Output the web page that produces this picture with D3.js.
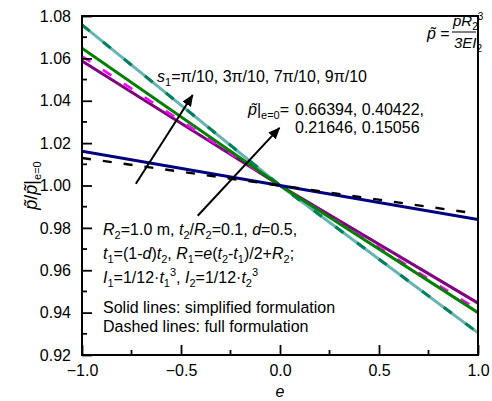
<!DOCTYPE html>
<html><head><meta charset="utf-8">
<script src="https://cdn.jsdelivr.net/npm/d3@7"></script>
<style>body{margin:0;background:#fff}svg{display:block;font-family:"Liberation Sans",Arial,sans-serif}</style>
</head><body><svg id="c" width="492" height="401"></svg>
<script>
const eVals = [-1, 0, 1];
const solidNavy   = [1.0162, 1.0, 0.9840];
const dashBlack   = [1.0130, 1.0, 0.9866];
const solidPurple = [1.0588, 1.0, 0.9445];
const dashMagenta = [1.0610, 1.0, 0.9413];
const solidGreen  = [1.0648, 1.0, 0.9400];
const solidTeal   = [1.0758, 1.0, 0.9305];
const dashTeal    = [1.0758, 1.0, 0.9305];
const xTicks = [-1, -0.5, 0, 0.5, 1];
const yTicks = [0.92, 0.94, 0.96, 0.98, 1.00, 1.02, 1.04, 1.06, 1.08];

const series = [
  {v: solidTeal, color: "#66b3b3", w: 3, dash: null},
  {v: dashTeal, color: "#00805a", w: 3, dash: "10,17"},
  {v: solidPurple, color: "#800080", w: 3, dash: null},
  {v: dashMagenta, color: "#ff00ff", w: 2.6, dash: "10,15"},
  {v: solidGreen, color: "#008000", w: 3, dash: null},
  {v: solidNavy, color: "#000080", w: 3, dash: null},
  {v: dashBlack, color: "#000000", w: 2.4, dash: "9,12"}
];

const svg = d3.select("#c");
const L = 82, R = 478, T = 16, B = 355;
const x = d3.scaleLinear().domain([-1, 1]).range([L, R]);
const y = d3.scaleLinear().domain([0.92, 1.08]).range([B, T]);

const defs = svg.append("defs");
defs.append("clipPath").attr("id","clip").append("rect")
  .attr("x", L).attr("y", T).attr("width", R-L).attr("height", B-T);

const line = d3.line().x((d,i)=>x(eVals[i])).y(d=>y(d));
const g = svg.append("g").attr("clip-path","url(#clip)");
series.forEach(s => {
  g.append("path").attr("d", line(s.v)).attr("fill","none")
    .attr("stroke", s.color).attr("stroke-width", s.w)
    .attr("stroke-dasharray", s.dash);
});

// axes
const fs = 16;
const xAxis = d3.axisBottom(x).tickValues(xTicks).tickSize(-10).tickPadding(10)
  .tickFormat(d => d3.format(".1f")(d).replace("-", "\u2212"));
const gx = svg.append("g").attr("transform", `translate(0,${B})`).call(xAxis);
const yAxis = d3.axisLeft(y).tickValues(yTicks).tickSize(-10).tickPadding(11)
  .tickFormat(d3.format(".2f"));
const gy = svg.append("g").attr("transform", `translate(${L},0)`).call(yAxis);
[gx, gy].forEach(a => {
  a.select(".domain").remove();
  a.selectAll("line").attr("stroke","#000").attr("stroke-width",1.8);
  a.selectAll("text").attr("font-size", fs).attr("fill","#000")
    .style("font-family", '"Liberation Sans",Arial,sans-serif');
});
// minor ticks
const xMinor = [-0.75, -0.25, 0.25, 0.75];
svg.append("g").selectAll("line").data(xMinor).join("line")
  .attr("x1", d=>x(d)).attr("x2", d=>x(d)).attr("y1", B).attr("y2", B-5)
  .attr("stroke","#000").attr("stroke-width",1.8);
const yMinor = [0.93, 0.95, 0.97, 0.99, 1.01, 1.03, 1.05, 1.07];
svg.append("g").selectAll("line").data(yMinor).join("line")
  .attr("x1", L).attr("x2", L+5).attr("y1", d=>y(d)).attr("y2", d=>y(d))
  .attr("stroke","#000").attr("stroke-width",1.8);

// frame
svg.append("rect").attr("x", L).attr("y", T).attr("width", R-L).attr("height", B-T)
  .attr("fill","none").attr("stroke","#000").attr("stroke-width",2);

// axis titles
svg.append("text").attr("x", (L+R)/2).attr("y", 397).attr("text-anchor","middle")
  .attr("font-size", fs).attr("font-style","italic").text("e");

const yl = svg.append("text").attr("transform", `translate(37,${(T+B)/2}) rotate(-90)`)
  .attr("text-anchor","middle").attr("font-size", 18);
yl.append("tspan").attr("font-style","italic").text("p\u0303");
yl.append("tspan").text("/");
yl.append("tspan").attr("font-style","italic").text("p\u0303");
yl.append("tspan").text("|");
yl.append("tspan").attr("font-size", 11).attr("dy", 4).text("e=0");

// arrows
defs.append("marker").attr("id","ah").attr("viewBox","0 0 12 10").attr("refX",11).attr("refY",5)
  .attr("markerWidth",6).attr("markerHeight",5).attr("orient","auto")
  .append("path").attr("d","M0,0 L12,5 L0,10 Z").attr("fill","#000");
const arrows = [[-0.728, 1.0008, -0.441, 1.0427], [-0.4156, 0.9857, -0.0025, 1.0272]];
arrows.forEach(a => {
  svg.append("line").attr("x1", x(a[0])).attr("y1", y(a[1])).attr("x2", x(a[2])).attr("y2", y(a[3]))
    .attr("stroke","#000").attr("stroke-width",2).attr("marker-end","url(#ah)");
});

// text helpers
const fsT = 16;
function rich(xp, yp, parts, size, subSize) {
  const ss = subSize || 11;
  const t = svg.append("text").attr("x", xp).attr("y", yp).attr("font-size", size || fsT);
  parts.forEach(p => {
    const ts = t.append("tspan").text(p.t);
    if (p.i) ts.attr("font-style","italic");
    if (p.sub) ts.attr("font-size", ss).attr("dy", 4);
    if (p.sup) ts.attr("font-size", ss).attr("dy", p.sup);
    if (p.back) ts.attr("dy", p.back);
  });
  return t;
}

rich(157, 82, [{t:"s",i:1},{t:"1",sub:1},{t:"=\u03c0/10, 3\u03c0/10, 7\u03c0/10, 9\u03c0/10", back:-4}]);

rich(248, 115, [{t:"p\u0303",i:1},{t:"|"},{t:"e=0",sub:1},{t:"=",back:-4}]);
svg.append("text").attr("x", 295).attr("y", 115).attr("font-size", fsT).text("0.66394, 0.40422,");
svg.append("text").attr("x", 295).attr("y", 133).attr("font-size", fsT).text("0.21646, 0.15056");

// formula top right
rich(427, 39, [{t:"p\u0303",i:1},{t:" ="}], 16);
rich(453, 26, [{t:"pR",i:1},{t:"2",sub:1},{t:"3",sup:-10}], 15, 10);
svg.append("line").attr("x1",452).attr("x2",476).attr("y1",32).attr("y2",32).attr("stroke","#000").attr("stroke-width",1);
rich(454, 48, [{t:"3EI",i:1},{t:"2",sub:1}], 15, 10);

// parameters block
rich(103, 235, [{t:"R",i:1},{t:"2",sub:1},{t:"=1.0 m, ",back:-4},{t:"t",i:1},{t:"2",sub:1},{t:"/",back:-4},{t:"R",i:1},{t:"2",sub:1},{t:"=0.1, ",back:-4},{t:"d",i:1},{t:"=0.5,"}]);
rich(103, 259, [{t:"t",i:1},{t:"1",sub:1},{t:"=(1-",back:-4},{t:"d",i:1},{t:")"},{t:"t",i:1},{t:"2",sub:1},{t:", ",back:-4},{t:"R",i:1},{t:"1",sub:1},{t:"=",back:-4},{t:"e",i:1},{t:"("},{t:"t",i:1},{t:"2",sub:1},{t:"-",back:-4},{t:"t",i:1},{t:"1",sub:1},{t:")/2+",back:-4},{t:"R",i:1},{t:"2",sub:1},{t:";",back:-4}]);
rich(103, 283, [{t:"I",i:1},{t:"1",sub:1},{t:"=1/12\u00b7",back:-4},{t:"t",i:1},{t:"1",sub:1},{t:"3",sup:-11},{t:", ",back:7},{t:"I",i:1},{t:"2",sub:1},{t:"=1/12\u00b7",back:-4},{t:"t",i:1},{t:"2",sub:1},{t:"3",sup:-11}]);
svg.append("text").attr("x",103).attr("y",313).attr("font-size",fsT).text("Solid lines: simplified formulation");
svg.append("text").attr("x",103).attr("y",332).attr("font-size",fsT).text("Dashed lines: full formulation");
</script></body></html>
